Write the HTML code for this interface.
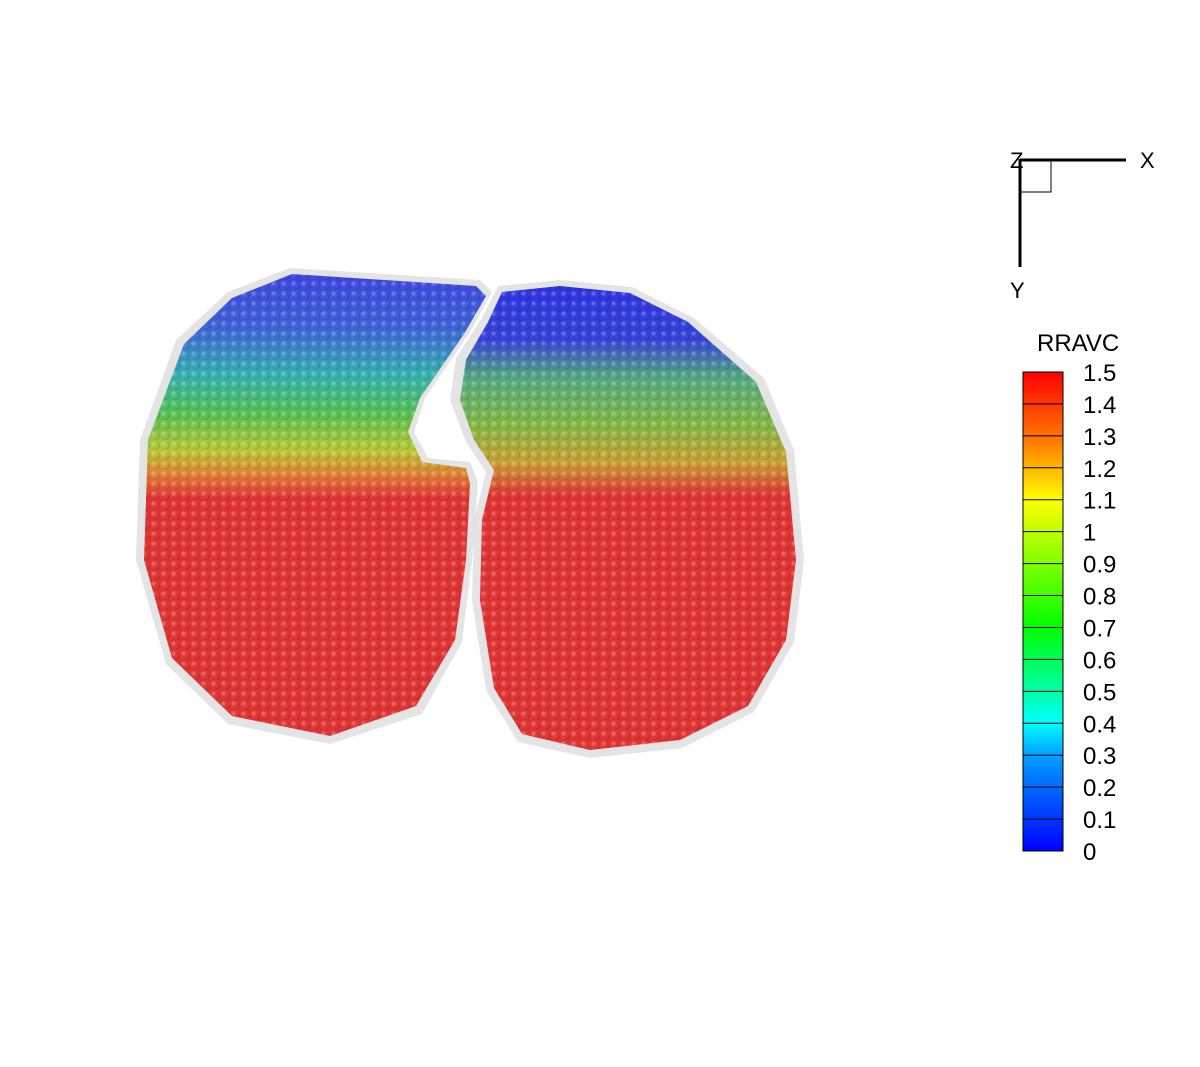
<!DOCTYPE html>
<html><head><meta charset="utf-8"><style>
html,body{margin:0;padding:0;background:#fff;}
svg{display:block;font-family:"Liberation Sans",sans-serif;}
</style></head><body>
<svg id="chart" width="1200" height="1067" viewBox="0 0 1200 1067">
<defs>
  <linearGradient id="gl" x1="0" y1="270" x2="0" y2="745" gradientUnits="userSpaceOnUse">
    <stop offset="0" stop-color="#3a3fe0"/>
    <stop offset="0.12" stop-color="#3a60d8"/>
    <stop offset="0.22" stop-color="#30b0b0"/>
    <stop offset="0.30" stop-color="#50c050"/>
    <stop offset="0.38" stop-color="#b8c830"/>
    <stop offset="0.43" stop-color="#e08030"/>
    <stop offset="0.48" stop-color="#e03030"/>
    <stop offset="1" stop-color="#e03030"/>
  </linearGradient>
  <linearGradient id="gr" x1="0" y1="283" x2="0" y2="755" gradientUnits="userSpaceOnUse">
    <stop offset="0" stop-color="#2a2ee0"/>
    <stop offset="0.12" stop-color="#3040d8"/>
    <stop offset="0.2" stop-color="#50a880"/>
    <stop offset="0.3" stop-color="#80b840"/>
    <stop offset="0.38" stop-color="#c8a030"/>
    <stop offset="0.45" stop-color="#e03030"/>
    <stop offset="1" stop-color="#e03030"/>
  </linearGradient>
  <linearGradient id="cbar" x1="0" y1="1" x2="0" y2="0">
    <stop offset="0" stop-color="#0000ff"/>
    <stop offset="0.2" stop-color="#00a0ff"/>
    <stop offset="0.2667" stop-color="#00ffff"/>
    <stop offset="0.4667" stop-color="#00ff00"/>
    <stop offset="0.7333" stop-color="#ffff00"/>
    <stop offset="0.85" stop-color="#ff8000"/>
    <stop offset="1" stop-color="#ff0000"/>
  </linearGradient>
  <radialGradient id="ball" cx="0.35" cy="0.35" r="0.7">
    <stop offset="0" stop-color="#fff" stop-opacity="0.35"/>
    <stop offset="0.5" stop-color="#fff" stop-opacity="0"/>
    <stop offset="1" stop-color="#000" stop-opacity="0.22"/>
  </radialGradient>
  <pattern id="balls" width="10" height="10" patternUnits="userSpaceOnUse">
    <circle cx="5" cy="5" r="5" fill="url(#ball)"/>
  </pattern>
</defs>

<g>
  <path d="M290,268 L480,280 L492,292 L470,332 L425,398 L414,432 L428,458 L470,462 L478,482 L472,560 L462,642 L422,714 L330,744 L228,724 L166,664 L136,560 L140,440 L176,340 L228,292 Z" fill="#d8d8d8" opacity="0.7"/>
  <path d="M292,274 L476,286 L486,296 L464,334 L420,398 L408,432 L422,462 L466,468 L470,484 L466,560 L455,640 L416,706 L330,736 L232,716 L172,658 L144,560 L148,440 L184,344 L232,298 Z" fill="url(#gl)"/>
  <path d="M292,274 L476,286 L486,296 L464,334 L420,398 L408,432 L422,462 L466,468 L470,484 L466,560 L455,640 L416,706 L330,736 L232,716 L172,658 L144,560 L148,440 L184,344 L232,298 Z" fill="url(#balls)"/>
</g>
<g>
  <path d="M498,286 L560,280 L632,287 L694,318 L764,378 L794,450 L804,560 L794,642 L754,712 L682,748 L590,758 L518,742 L486,690 L472,600 L474,520 L486,472 L466,442 L450,400 L456,358 L482,318 Z" fill="#d8d8d8" opacity="0.7"/>
  <path d="M502,292 L560,286 L630,293 L688,322 L756,382 L786,452 L796,560 L786,640 L748,706 L680,740 L590,750 L522,734 L494,688 L480,600 L482,520 L494,470 L474,440 L460,400 L466,360 L488,322 Z" fill="url(#gr)"/>
  <path d="M502,292 L560,286 L630,293 L688,322 L756,382 L786,452 L796,560 L786,640 L748,706 L680,740 L590,750 L522,734 L494,688 L480,600 L482,520 L494,470 L474,440 L460,400 L466,360 L488,322 Z" fill="url(#balls)"/>
</g>

<g>
  <line x1="1020" y1="160" x2="1126" y2="160" stroke="#000" stroke-width="3"/>
  <line x1="1020" y1="159" x2="1020" y2="267" stroke="#000" stroke-width="3"/>
  <rect x="1020" y="160" width="31" height="32" fill="none" stroke="#000" stroke-width="1"/>
  <text x="1010" y="168" font-size="22">Z</text>
  <text x="1140" y="168" font-size="22">X</text>
  <text x="1010" y="298" font-size="22">Y</text>
</g>

<text x="1037" y="351" font-size="24">RRAVC</text>
<g id="legend">
  <rect x="1023" y="372" width="40" height="479" fill="url(#cbar)" stroke="#000" stroke-width="1"/>
</g>
</svg>
<script>
const levels = [0,0.1,0.2,0.3,0.4,0.5,0.6,0.7,0.8,0.9,1,1.1,1.2,1.3,1.4,1.5];
const tickLabels = ["0","0.1","0.2","0.3","0.4","0.5","0.6","0.7","0.8","0.9","1","1.1","1.2","1.3","1.4","1.5"];
const SVGNS="http://www.w3.org/2000/svg";
const legendG=document.getElementById('legend');
const barTop=372,barBot=851,barX=1023,barW=40;
function yScale(v){return barBot-(v-levels[0])/(levels[levels.length-1]-levels[0])*(barBot-barTop);}
for(let i=1;i<levels.length-1;i++){
  const l=document.createElementNS(SVGNS,'line');
  l.setAttribute('x1',barX);l.setAttribute('x2',barX+barW);
  l.setAttribute('y1',yScale(levels[i]));l.setAttribute('y2',yScale(levels[i]));
  l.setAttribute('stroke','#000');l.setAttribute('stroke-width','1');
  
  
  legendG.appendChild(l);
}
for(let i=0;i<levels.length;i++){
  const t=document.createElementNS(SVGNS,'text');
  t.setAttribute('x',1083);t.setAttribute('y',yScale(levels[i])+9);
  t.setAttribute('font-size','24');t.textContent=tickLabels[i];
  
  
  legendG.appendChild(t);
}
</script>
</body></html>
